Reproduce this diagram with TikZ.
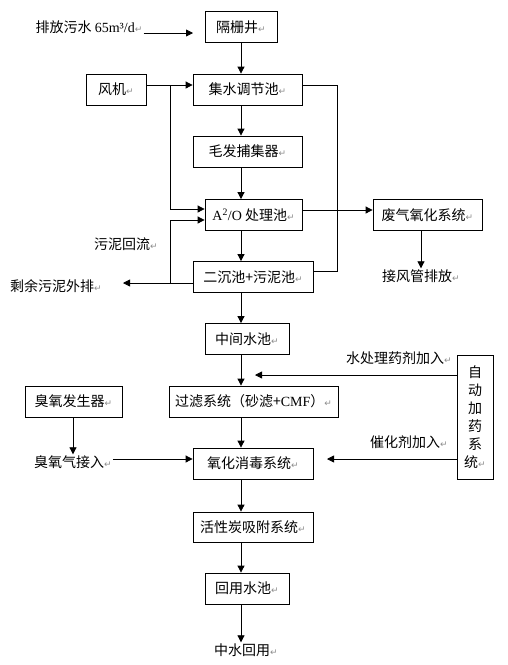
\documentclass[tikz,border=0pt]{standalone}
\usepackage{fontspec}
\setmainfont{Noto Sans CJK SC}
\newfontfamily\latinfont{Liberation Serif}
\newfontfamily\retfont{DejaVu Sans}
\usetikzlibrary{arrows.meta}
\newcommand{\ret}{{\retfont\fontsize{9}{9}\selectfont\textcolor{black!45}{↵}}}
\newcommand{\lat}[1]{{\latinfont #1}}

\begin{document}
\begin{tikzpicture}[x=1pt, y=-1pt,
  box/.style={draw, line width=0.8pt, font=\fontsize{14}{16}\selectfont,
              inner sep=0pt, minimum height=31pt},
  lbl/.style={font=\fontsize{14}{16}\selectfont, inner sep=1pt},
  arr/.style={-{Triangle[length=7pt,width=7pt]}, line width=0.8pt},
  ln/.style={line width=0.8pt}
]
\useasboundingbox (0,0) rectangle (507,665);
% main column
\node[box, minimum width=72pt]  (grid)    at (241,27)    {隔栅井\ret};
\node[box, minimum width=109pt] (collect) at (247.5,89.5) {集水调节池\ret};
\node[box, minimum width=109pt] (hair)    at (247.5,151.5) {毛发捕集器\ret};
\node[box, minimum width=97pt]  (ao)      at (253.5,215) {\lat{A\textsuperscript{2}/O} 处理池\ret};
\node[box, minimum width=120pt] (settle)  at (253,277)   {二沉池+污泥池\ret};
\node[box, minimum width=84pt]  (middle)  at (247,339)   {中间水池\ret};
\node[box, minimum width=169pt] (filter)  at (253.5,401.5) {过滤系统（砂滤+\lat{CMF}）\ret};
\node[box, minimum width=120pt] (oxid)    at (253,463.5) {氧化消毒系统\ret};
\node[box, minimum width=120pt, minimum height=30pt] (carbon) at (253,527) {活性炭吸附系统\ret};
\node[box, minimum width=84pt]  (reuse)   at (247,588.5) {回用水池\ret};
% side boxes
\node[box, minimum width=60pt]  (fan)     at (116,89.5)  {风机\ret};
\node[box, minimum width=109pt] (exhaust) at (427.5,215) {废气氧化系统\ret};
\node[box, minimum width=97pt]  (ozone)   at (73.5,401.5) {臭氧发生器\ret};
\node[box, minimum width=36pt, minimum height=124pt, align=center,
      font=\fontsize{14}{18}\selectfont] (dosing) at (475,417)
      {自\\动\\加\\药\\系\\统\ret};
% labels
\node[lbl] (inflow)   at (89,27)   {排放污水 \lat{65m³/d}\ret};
\node[lbl] (back)     at (126,244) {污泥回流\ret};
\node[lbl] (surplus)  at (56,286)  {剩余污泥外排\ret};
\node[lbl] (vent)     at (421,276) {接风管排放\ret};
\node[lbl] (chem)     at (399,358) {水处理药剂加入\ret};
\node[lbl] (catalyst) at (409,442) {催化剂加入\ret};
\node[lbl] (ozgas)    at (73,462)  {臭氧气接入\ret};
\node[lbl] (reclaim)  at (246,650) {中水回用\ret};
% free ends
\coordinate (inEnd)   at (193,33);
\coordinate (fanTap)  at (170,85);
\coordinate (sludgeTap) at (170,283);
\coordinate (outEnd)  at (123,283);
\coordinate (chemEnd) at (255,375);
\coordinate (catEnd)  at (327,459);
% connectors
\draw[arr] (inflow.east|-inEnd) -- (inEnd);
\draw[arr] (grid.south) -- (grid.south|-collect.north);
\draw[arr] (fan.east|-fanTap) -- (collect.west|-fanTap);
\draw[arr] (fanTap) -- (170,209) -- (ao.west|-0,209);
\draw[arr] (collect.south-|grid.south) -- (hair.north-|grid.south);
\draw[arr] (hair.south-|grid.south) -- (ao.north-|grid.south);
\draw[ln]  (collect.east|-fanTap) -- (337,85) -- (337,271) -- (settle.east|-0,271);
\draw[arr] (ao.east|-0,210) -- (exhaust.west|-0,210);
\draw[arr] (exhaust.south-|421,0) -- (vent.north-|421,0);
\draw[arr] (ao.south-|grid.south) -- (settle.north-|grid.south);
\draw[arr] (settle.west|-sludgeTap) -- (outEnd);
\draw[arr] (sludgeTap) -- (170,220) -- (ao.west|-0,220);
\draw[arr] (settle.south-|grid.south) -- (middle.north-|grid.south);
\draw[arr] (middle.south-|grid.south) -- (filter.north-|grid.south);
\draw[arr] (dosing.west|-chemEnd) -- (chemEnd);
\draw[arr] (filter.south-|grid.south) -- (oxid.north-|grid.south);
\draw[arr] (ozone.south-|73,0) -- (ozgas.north-|73,0);
\draw[arr] (ozgas.east|-catEnd) -- (oxid.west|-catEnd);
\draw[arr] (dosing.west|-catEnd) -- (catEnd);
\draw[arr] (oxid.south-|grid.south) -- (carbon.north-|grid.south);
\draw[arr] (carbon.south-|grid.south) -- (reuse.north-|grid.south);
\draw[arr] (reuse.south-|grid.south) -- (reclaim.north-|grid.south);
\end{tikzpicture}
\end{document}
